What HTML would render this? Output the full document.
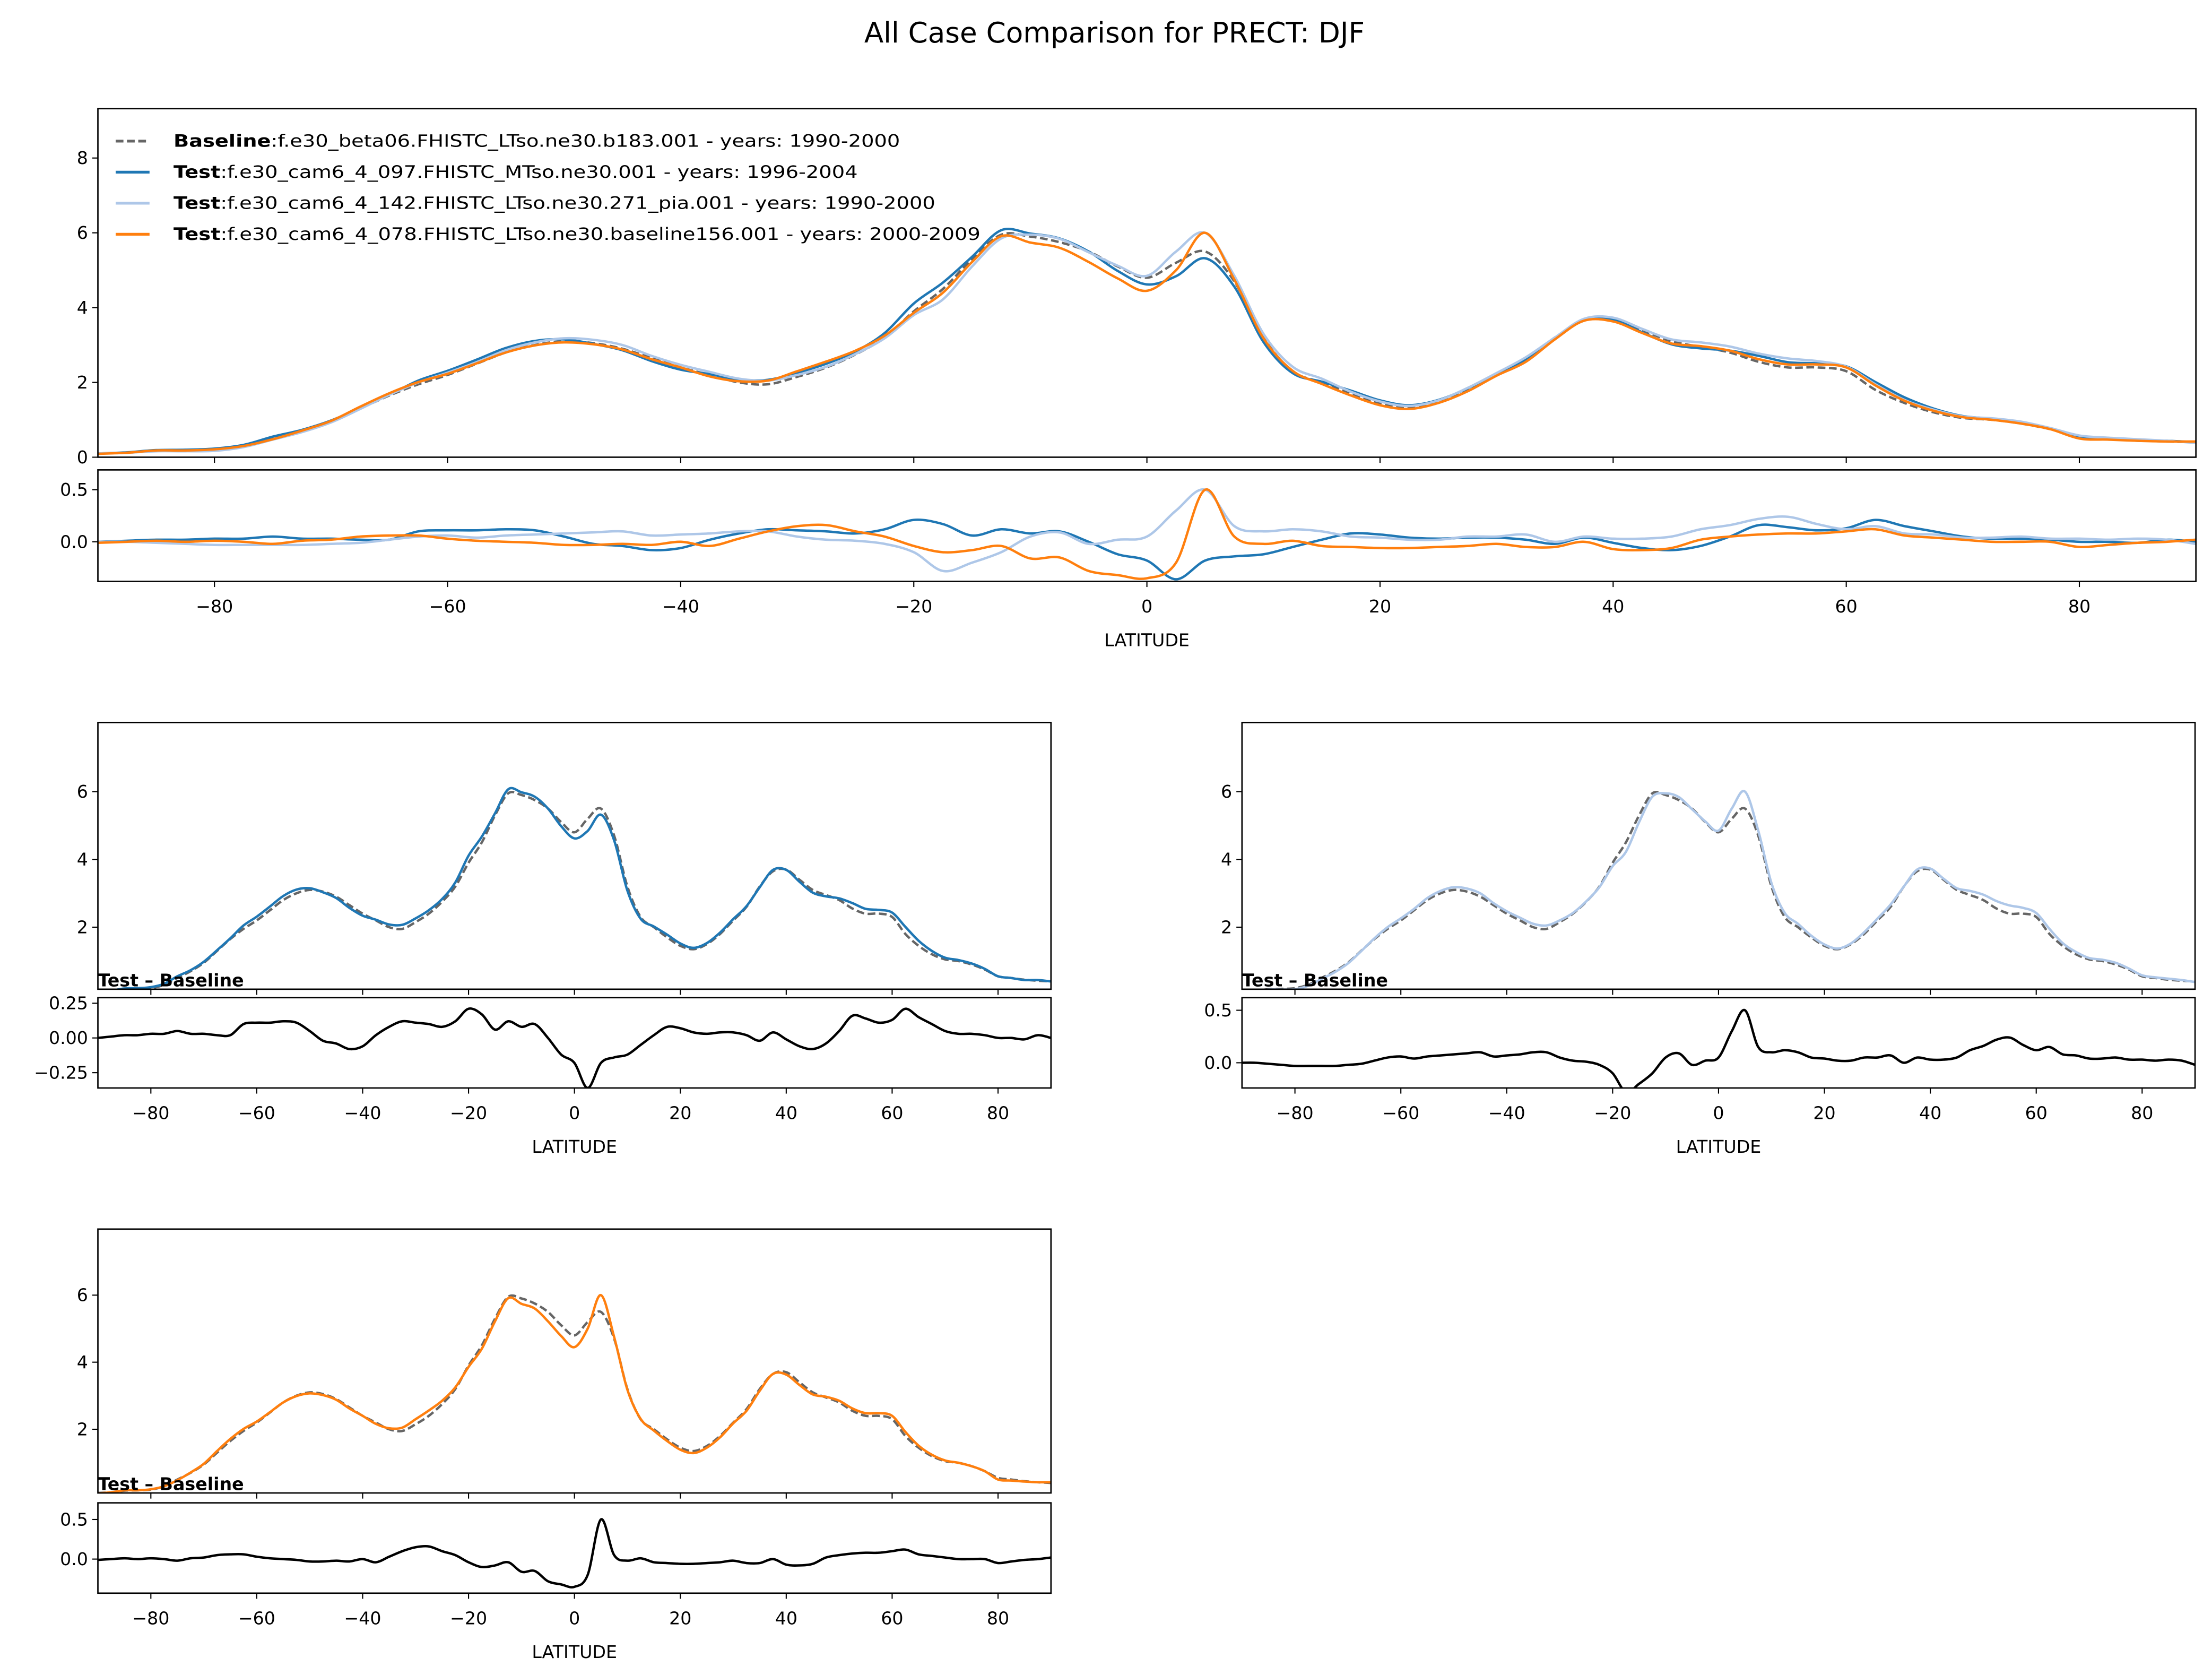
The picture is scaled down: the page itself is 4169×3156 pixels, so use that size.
<!DOCTYPE html>
<html><head><meta charset="utf-8"><style>
html,body{margin:0;padding:0;background:#fff}
svg{display:block}
text{font-family:"DejaVu Sans","Liberation Sans",sans-serif}
</style></head><body>
<svg id="fig" width="4169" height="3156" viewBox="0 0 1568 1187" xmlns="http://www.w3.org/2000/svg">
<rect width="1568" height="1187" fill="#fff"/>
<text x="790" y="30" font-size="20" text-anchor="middle">All Case Comparison for PRECT: DJF</text>
<g id="plots"></g>
</svg>
<script>
const lats = [];
for (let i = 0; i <= 72; i++) lats.push(-90 + i * 2.5);
const baseline = [0.1,0.12,0.17,0.18,0.2,0.3,0.5,0.7,0.95,1.3,1.65,1.95,2.2,2.5,2.8,3.0,3.1,3.05,2.9,2.65,2.4,2.2,2.0,1.95,2.15,2.4,2.75,3.2,3.9,4.5,5.3,5.95,5.9,5.75,5.5,5.1,4.8,5.2,5.5,4.7,3.2,2.3,2.0,1.7,1.45,1.35,1.5,1.8,2.2,2.6,3.2,3.65,3.7,3.4,3.1,2.95,2.8,2.55,2.4,2.4,2.3,1.8,1.45,1.2,1.05,1.0,0.9,0.75,0.55,0.5,0.45,0.42,0.4];
const diffTest1 = [0,0.01,0.02,0.02,0.03,0.03,0.05,0.03,0.03,0.02,0.02,0.1,0.11,0.11,0.12,0.11,0.05,-0.02,-0.04,-0.08,-0.06,0.02,0.08,0.12,0.11,0.10,0.08,0.12,0.21,0.17,0.06,0.12,0.08,0.1,0.0,-0.12,-0.18,-0.36,-0.18,-0.14,-0.12,-0.05,0.02,0.08,0.07,0.04,0.03,0.04,0.04,0.02,-0.02,0.04,-0.01,-0.06,-0.08,-0.04,0.05,0.16,0.14,0.11,0.13,0.21,0.15,0.1,0.05,0.03,0.03,0.02,0.0,0.0,-0.01,0.02,0.0];
const diffTest2 = [0,0,-0.01,-0.02,-0.03,-0.03,-0.03,-0.03,-0.02,-0.01,0.02,0.05,0.06,0.04,0.06,0.07,0.08,0.09,0.1,0.06,0.07,0.08,0.1,0.1,0.05,0.02,0.01,-0.02,-0.1,-0.28,-0.2,-0.1,0.05,0.09,-0.02,0.02,0.05,0.3,0.5,0.15,0.1,0.12,0.1,0.05,0.04,0.02,0.02,0.05,0.05,0.07,0.0,0.05,0.03,0.03,0.05,0.12,0.16,0.22,0.24,0.17,0.12,0.15,0.08,0.07,0.04,0.04,0.05,0.03,0.03,0.02,0.03,0.02,-0.02];
const diffTest3 = [-0.01,0,0.01,0.0,0.01,0.0,-0.02,0.01,0.02,0.05,0.06,0.06,0.03,0.01,0.0,-0.01,-0.03,-0.03,-0.02,-0.03,0.0,-0.04,0.03,0.1,0.15,0.16,0.1,0.05,-0.04,-0.1,-0.08,-0.04,-0.16,-0.15,-0.28,-0.32,-0.35,-0.2,0.5,0.05,-0.02,0.01,-0.04,-0.05,-0.06,-0.06,-0.05,-0.04,-0.02,-0.05,-0.05,0.0,-0.07,-0.08,-0.06,0.02,0.05,0.07,0.08,0.08,0.1,0.12,0.06,0.04,0.02,0.0,0.0,0.0,-0.05,-0.03,-0.01,0.0,0.02];
const xTicks = [-80,-60,-40,-20,0,20,40,60,80];
const caseLabels = ["Baseline","Test","Test","Test"];
const caseNames = [
 "f.e30_beta06.FHISTC_LTso.ne30.b183.001 - years: 1990-2000",
 "f.e30_cam6_4_097.FHISTC_MTso.ne30.001 - years: 1996-2004",
 "f.e30_cam6_4_142.FHISTC_LTso.ne30.271_pia.001 - years: 1990-2000",
 "f.e30_cam6_4_078.FHISTC_LTso.ne30.baseline156.001 - years: 2000-2009"];

const test1 = baseline.map((v,i)=>v+diffTest1[i]);
const test2 = baseline.map((v,i)=>v+diffTest2[i]);
const test3 = baseline.map((v,i)=>v+diffTest3[i]);
const colors = ["#666666","#1f77b4","#aec7e8","#ff7f0e"];
const NS = "http://www.w3.org/2000/svg";
const root = document.getElementById('plots');

function mk(tag, attrs, parent){
  const e = document.createElementNS(NS, tag);
  for (const k in attrs) e.setAttribute(k, attrs[k]);
  (parent||root).appendChild(e);
  return e;
}
function scale(d0,d1,r0,r1){ return v => r0 + (v-d0)*(r1-r0)/(d1-d0); }

function line(xs, vals, sx, sy, color, w, dash, name, g){
  const P = vals.map((v,i)=>[sx(xs[i]), sy(v)]);
  let d = 'M'+P[0][0].toFixed(2)+','+P[0][1].toFixed(2);
  for (let i=0;i<P.length-1;i++){
    const p0=P[Math.max(0,i-1)], p1=P[i], p2=P[i+1], p3=P[Math.min(P.length-1,i+2)];
    const c1=[p1[0]+(p2[0]-p0[0])/6, p1[1]+(p2[1]-p0[1])/6];
    const c2=[p2[0]-(p3[0]-p1[0])/6, p2[1]-(p3[1]-p1[1])/6];
    d += 'C'+c1[0].toFixed(2)+','+c1[1].toFixed(2)+' '+c2[0].toFixed(2)+','+c2[1].toFixed(2)+' '+p2[0].toFixed(2)+','+p2[1].toFixed(2);
  }
  const p = mk('path',{d:d,fill:'none',stroke:color,'stroke-width':w,'stroke-linejoin':'round'},g);
  if (dash) p.setAttribute('stroke-dasharray', dash);
  
  
}

function axesBox(x0,x1,y0,y1,name){
  const r = mk('rect',{x:x0,y:y0,width:x1-x0,height:y1-y0,fill:'none',stroke:'#000','stroke-width':1});
  
  
}
function yTicks(x0, sy, ticks, labels, name){
  ticks.forEach((t,i)=>{
    mk('line',{x1:x0-4,x2:x0,y1:sy(t),y2:sy(t),stroke:'#000','stroke-width':0.8});
    const tx = mk('text',{x:x0-7,y:sy(t)+4.3,'font-size':12.5,'text-anchor':'end'});
    tx.textContent = labels[i];
    
    
  });
}
function xTickMarks(sx, y, withLabels, name){
  xTicks.forEach(t=>{
    mk('line',{x1:sx(t),x2:sx(t),y1:y,y2:y+4,stroke:'#000','stroke-width':0.8});
    if (withLabels){
      const tx = mk('text',{x:sx(t),y:y+22,'font-size':12.5,'text-anchor':'middle'});
      tx.textContent = (t<0?'\u2212'+(-t):''+t);
      
      
    }
  });
}

function panel(cfg){
  const g = mk('g',{});
  
  
  const sx = scale(-90,90,cfg.x0,cfg.x1);
  const sy = scale(cfg.ylim[0],cfg.ylim[1],cfg.my1,cfg.my0);
  const sd = scale(cfg.dlim[0],cfg.dlim[1],cfg.dy1,cfg.dy0);
  const cp = 'clip-'+cfg.name, cd = 'clipd-'+cfg.name;
  const c1 = mk('clipPath',{id:cp},g); mk('rect',{x:cfg.x0,y:cfg.my0,width:cfg.x1-cfg.x0,height:cfg.my1-cfg.my0},c1);
  const c2 = mk('clipPath',{id:cd},g); mk('rect',{x:cfg.x0,y:cfg.dy0,width:cfg.x1-cfg.x0,height:cfg.dy1-cfg.dy0},c2);
  const gm = mk('g',{'clip-path':'url(#'+cp+')'},g);
  const gd = mk('g',{'clip-path':'url(#'+cd+')'},g);
  cfg.series.forEach(s=>line(lats,s.vals,sx,sy,s.color,s.w,s.dash,s.name,gm));
  cfg.diffs.forEach(s=>line(lats,s.vals,sx,sd,s.color,s.w,null,s.name,gd));
  axesBox(cfg.x0,cfg.x1,cfg.my0,cfg.my1,cfg.name+'-main-axes');
  axesBox(cfg.x0,cfg.x1,cfg.dy0,cfg.dy1,cfg.name+'-diff-axes');
  yTicks(cfg.x0, sy, cfg.yt, cfg.yt.map(String), cfg.name+'-main');
  yTicks(cfg.x0, sd, cfg.dt, cfg.dtl, cfg.name+'-diff');
  xTickMarks(sx, cfg.my1, false, cfg.name);
  xTickMarks(sx, cfg.dy1, true, cfg.name);
  const xl = mk('text',{x:(cfg.x0+cfg.x1)/2,y:cfg.dy1+46,'font-size':12.5,'text-anchor':'middle'},g);
  xl.textContent = 'LATITUDE';
  
  
  if (cfg.tb){
    const t = mk('text',{x:cfg.x0,y:cfg.my1-2,'font-size':12.5,'font-weight':'bold'},g);
    t.textContent = 'Test \u2013 Baseline';
    
    
  }
  return g;
}

const BL = {vals:baseline,color:colors[0],w:1.7,dash:'5.5,2.5',name:'baseline-line'};
panel({name:'all-cases-panel',x0:69.4,x1:1556.6,my0:77,my1:324,ylim:[0,9.32],dy0:333,dy1:412,dlim:[-0.38,0.69],
  yt:[0,2,4,6,8],dt:[0,0.5],dtl:['0.0','0.5'],
  series:[BL,{vals:test1,color:colors[1],w:1.7,name:'test1-line'},{vals:test2,color:colors[2],w:1.7,name:'test2-line'},{vals:test3,color:colors[3],w:1.7,name:'test3-line'}],
  diffs:[{vals:diffTest1,color:colors[1],w:1.7,name:'test1-diff-line'},{vals:diffTest2,color:colors[2],w:1.7,name:'test2-diff-line'},{vals:diffTest3,color:colors[3],w:1.7,name:'test3-diff-line'}]});
panel({name:'test1-panel',x0:69.4,x1:745,my0:512,my1:701,ylim:[0.17,8.04],dy0:707,dy1:771,dlim:[-0.36,0.29],
  yt:[2,4,6],dt:[0.25,0,-0.25],dtl:['0.25','0.00','\u22120.25'],tb:true,
  series:[BL,{vals:test1,color:colors[1],w:1.7,name:'test1-line'}],
  diffs:[{vals:diffTest1,color:'#000',w:1.7,name:'test1-diff-line'}]});
panel({name:'test2-panel',x0:880.4,x1:1556,my0:512,my1:701,ylim:[0.17,8.04],dy0:707,dy1:771,dlim:[-0.24,0.62],
  yt:[2,4,6],dt:[0,0.5],dtl:['0.0','0.5'],tb:true,
  series:[BL,{vals:test2,color:colors[2],w:1.7,name:'test2-line'}],
  diffs:[{vals:diffTest2,color:'#000',w:1.7,name:'test2-diff-line'}]});
panel({name:'test3-panel',x0:69.4,x1:745,my0:871,my1:1058,ylim:[0.1,7.97],dy0:1065,dy1:1129,dlim:[-0.43,0.71],
  yt:[2,4,6],dt:[0,0.5],dtl:['0.0','0.5'],tb:true,
  series:[BL,{vals:test3,color:colors[3],w:1.7,name:'test3-line'}],
  diffs:[{vals:diffTest3,color:'#000',w:1.7,name:'test3-diff-line'}]});

// legend
const lg = mk('g',{});


const ly = [100,122,144,166];
const lens = [515,485,540,572];
caseLabels.forEach((lab,i)=>{
  const l = mk('line',{x1:82,x2:106,y1:ly[i],y2:ly[i],stroke:colors[i],'stroke-width':2},lg);
  if (i===0) l.setAttribute('stroke-dasharray','5.5,2.5');
  
  
  const t = mk('text',{x:123,y:ly[i]+4,'font-size':12,textLength:lens[i],lengthAdjust:'spacingAndGlyphs'},lg);
  
  
  const b = mk('tspan',{'font-weight':'bold'},t); b.textContent = lab;
  const n = mk('tspan',{},t); n.textContent = ':' + caseNames[i];
});
</script>
</body></html>
